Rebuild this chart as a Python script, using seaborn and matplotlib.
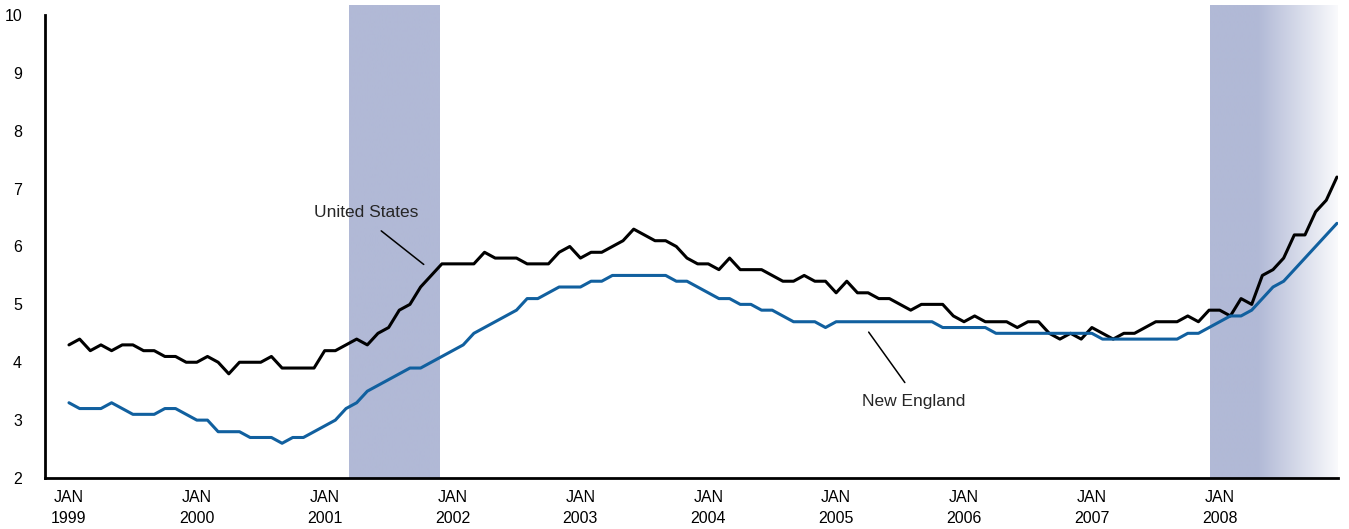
import numpy as np
import pandas as pd
import matplotlib
matplotlib.use("Agg")
import matplotlib.pyplot as plt
import seaborn as sns

# ================= data =================
# monthly unemployment rate (%), Jan 1999 - Dec 2008
us_rate = [
    4.3, 4.4, 4.2, 4.3, 4.2, 4.3, 4.3, 4.2, 4.2, 4.1, 4.1, 4.0,  # 1999
    4.0, 4.1, 4.0, 3.8, 4.0, 4.0, 4.0, 4.1, 3.9, 3.9, 3.9, 3.9,  # 2000
    4.2, 4.2, 4.3, 4.4, 4.3, 4.5, 4.6, 4.9, 5.0, 5.3, 5.5, 5.7,  # 2001
    5.7, 5.7, 5.7, 5.9, 5.8, 5.8, 5.8, 5.7, 5.7, 5.7, 5.9, 6.0,  # 2002
    5.8, 5.9, 5.9, 6.0, 6.1, 6.3, 6.2, 6.1, 6.1, 6.0, 5.8, 5.7,  # 2003
    5.7, 5.6, 5.8, 5.6, 5.6, 5.6, 5.5, 5.4, 5.4, 5.5, 5.4, 5.4,  # 2004
    5.2, 5.4, 5.2, 5.2, 5.1, 5.1, 5.0, 4.9, 5.0, 5.0, 5.0, 4.8,  # 2005
    4.7, 4.8, 4.7, 4.7, 4.7, 4.6, 4.7, 4.7, 4.5, 4.4, 4.5, 4.4,  # 2006
    4.6, 4.5, 4.4, 4.5, 4.5, 4.6, 4.7, 4.7, 4.7, 4.8, 4.7, 4.9,  # 2007
    4.9, 4.8, 5.1, 5.0, 5.5, 5.6, 5.8, 6.2, 6.2, 6.6, 6.8, 7.2,  # 2008
]
ne_rate = [
    3.3, 3.2, 3.2, 3.2, 3.3, 3.2, 3.1, 3.1, 3.1, 3.2, 3.2, 3.1,  # 1999
    3.0, 3.0, 2.8, 2.8, 2.8, 2.7, 2.7, 2.7, 2.6, 2.7, 2.7, 2.8,  # 2000
    2.9, 3.0, 3.2, 3.3, 3.5, 3.6, 3.7, 3.8, 3.9, 3.9, 4.0, 4.1,  # 2001
    4.2, 4.3, 4.5, 4.6, 4.7, 4.8, 4.9, 5.1, 5.1, 5.2, 5.3, 5.3,  # 2002
    5.3, 5.4, 5.4, 5.5, 5.5, 5.5, 5.5, 5.5, 5.5, 5.4, 5.4, 5.3,  # 2003
    5.2, 5.1, 5.1, 5.0, 5.0, 4.9, 4.9, 4.8, 4.7, 4.7, 4.7, 4.6,  # 2004
    4.7, 4.7, 4.7, 4.7, 4.7, 4.7, 4.7, 4.7, 4.7, 4.7, 4.6, 4.6,  # 2005
    4.6, 4.6, 4.6, 4.5, 4.5, 4.5, 4.5, 4.5, 4.5, 4.5, 4.5, 4.5,  # 2006
    4.5, 4.4, 4.4, 4.4, 4.4, 4.4, 4.4, 4.4, 4.4, 4.5, 4.5, 4.6,  # 2007
    4.7, 4.8, 4.8, 4.9, 5.1, 5.3, 5.4, 5.6, 5.8, 6.0, 6.2, 6.4,  # 2008
]
years = list(range(1999, 2009))
recession_start = ["2001-03", "2007-12"]
recession_end = ["2001-11", "2008-12"]
# ========================================

US_COLOR = "black"
NE_COLOR = "#11609F"
BAND_COLOR = np.array([177, 185, 214]) / 255.0
BAND_TOP = 10.16  # shading pokes a little above the top of the axis

sns.set_style("white")
plt.rcParams['font.family'] = ['Liberation Sans', 'DejaVu Sans']

months = pd.period_range("1999-01", "2008-12", freq="M")
df = pd.DataFrame({"month": months.astype(str), "idx": np.arange(len(months)),
                   "US": us_rate, "NE": ne_rate})
idx_of = {m: i for i, m in enumerate(df["month"])}

fig = plt.figure(figsize=(13.49, 5.29), dpi=100)
ax = fig.add_axes([45 / 1349, 1 - 478 / 529, (1338 - 45) / 1349, (478 - 15) / 529])

x_right = len(months) - 1 + 0.1

# recession shading (second one fades out at the right edge)
for k, (s, e) in enumerate(zip(recession_start, recession_end)):
    x0 = idx_of[s] + (0.3 if k == 0 else 0.1)
    x1 = idx_of[e] + 0.8 if k == 0 else x_right
    if k == 0:
        rgb = np.tile(BAND_COLOR, (1, 2, 1))
    else:
        xs = np.linspace(x0, x1, 400)
        fade_from = x1 - 7.5
        t = np.clip((xs - fade_from) / (x1 - fade_from), 0, 1) * 0.93
        rgb = BAND_COLOR[None, :] * (1 - t[:, None]) + t[:, None]
        rgb = rgb[None, :, :]
    im = ax.imshow(rgb, extent=[x0, x1, 2, BAND_TOP], aspect="auto",
                   interpolation="bilinear", zorder=0)
    im.set_clip_on(False)

sns.lineplot(data=df, x="idx", y="US", color=US_COLOR, lw=2.2, ax=ax, legend=False)
sns.lineplot(data=df, x="idx", y="NE", color=NE_COLOR, lw=2.2, ax=ax, legend=False)

ax.set_xlim(-2.25, x_right)
ax.set_ylim(2, 10)
ax.set_xlabel("")
ax.set_ylabel("")

ax.set_yticks(range(2, 11))
ax.set_yticklabels([str(v) for v in range(2, 11)], fontsize=11.5)
ax.set_xticks([12 * k for k in range(len(years))])
ax.set_xticklabels([f"JAN\n{y}" for y in years], fontsize=11.5, linespacing=1.45)

ax.tick_params(axis="y", direction="out", length=9.5, width=2, pad=7, colors="black")
ax.tick_params(axis="x", direction="in", length=7.5, width=1.2, pad=9, colors="black")

for side in ["top", "right"]:
    ax.spines[side].set_visible(False)
for side in ["left", "bottom"]:
    ax.spines[side].set_linewidth(2)
    ax.spines[side].set_color("black")
    ax.spines[side].set_zorder(3)

# labels with leader lines
ax.annotate("", xy=(33.5, 5.66), xytext=(29.1, 6.30),
            arrowprops=dict(arrowstyle="-", color="black", lw=1.1))
ax.text(27.9, 6.58, "United States", fontsize=12.5, ha="center", va="center")
ax.annotate("", xy=(78.6, 3.61), xytext=(74.9, 4.56),
            arrowprops=dict(arrowstyle="-", color="black", lw=1.1))
ax.text(79.3, 3.33, "New England", fontsize=12.5, ha="center", va="center")

fig.savefig("out.png", dpi=100)
